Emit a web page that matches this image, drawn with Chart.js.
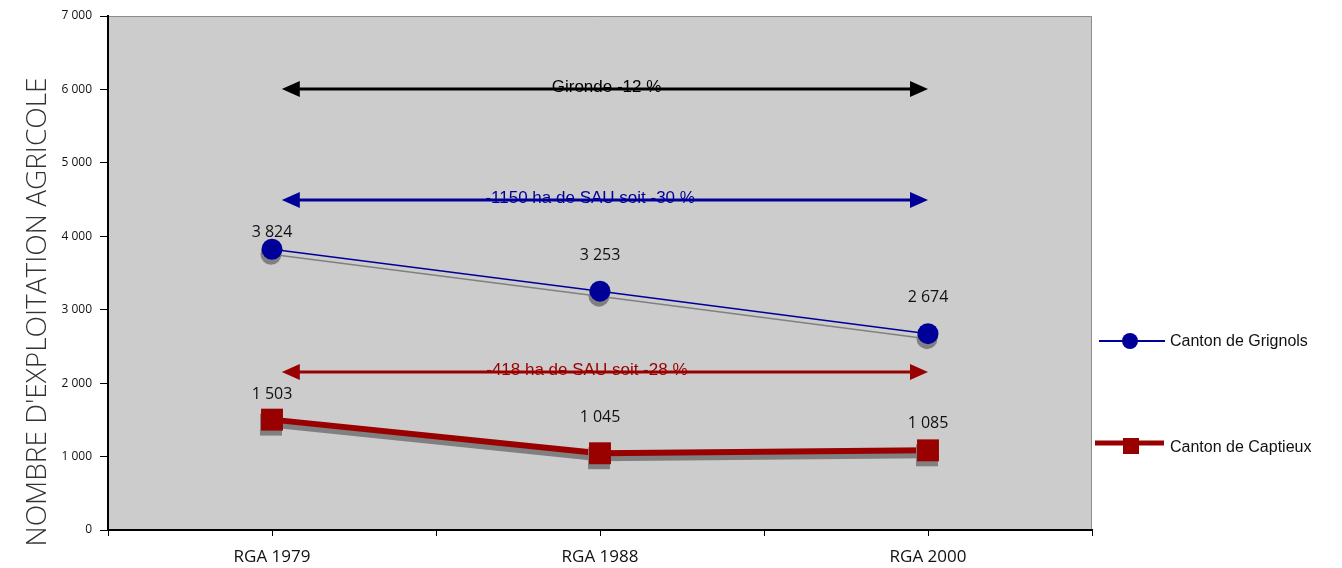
<!DOCTYPE html>
<html>
<head>
<meta charset="utf-8">
<script src="https://cdn.jsdelivr.net/npm/chart.js@4/dist/chart.umd.min.js"></script>
<style>
  body { margin: 0; background: #fff; }
  #wrap { width: 1342px; height: 568px; }
</style>
</head>
<body>
<div id="wrap"><canvas id="chart" width="1342" height="568"></canvas></div>
<script>
// ===== DATA =====
const categories = ["RGA 1979", "RGA 1988", "RGA 2000"];
const grignols = [3824, 3253, 2674];
const captieux = [1503, 1045, 1085];
const seriesNames = ["Canton de Grignols", "Canton de Captieux"];
const yTicks = [0, 1000, 2000, 3000, 4000, 5000, 6000, 7000];

// arrows: level on the y scale and text
const arrowLevels = [6000, 4500, 2150];
const arrowTexts = ["Gironde -12 %", "-1150 ha de SAU soit -30 %", "-418 ha de SAU soit -28 %"];

// ===== STYLE =====
const BLUE = "#000099";
const RED = "#990000";
const arrowColors = ["#000000", BLUE, RED];
const arrowTextAt = [1.02, 0.97, 0.96]; // text centre, in category units
const labelGap = [[17, 36, 36], [25, 36, 27]]; // px above the point

const fmt = v => String(v).replace(/\B(?=(\d{3})+(?!\d))/g, " ");

// ===== PLUGINS =====
const plotBg = {
  id: "plotBg",
  beforeDraw(chart) {
    const { ctx, chartArea: a } = chart;
    ctx.save();
    ctx.fillStyle = "#cccccc";
    ctx.fillRect(a.left, a.top, a.right - a.left, a.bottom - a.top);
    ctx.strokeStyle = "#8c8c8c";
    ctx.lineWidth = 1;
    ctx.beginPath();
    ctx.moveTo(a.left, a.top + 0.5);
    ctx.lineTo(a.right - 0.5, a.top + 0.5);
    ctx.lineTo(a.right - 0.5, a.bottom);
    ctx.stroke();
    ctx.restore();
  }
};

const shadow = {
  id: "shadow",
  beforeDatasetDraw(chart) {
    const ctx = chart.ctx;
    ctx.save();
    ctx.shadowColor = "#808080";
    ctx.shadowOffsetX = -1;
    ctx.shadowOffsetY = 5;
    ctx.shadowBlur = 0;
  },
  afterDatasetDraw(chart) {
    chart.ctx.restore();
  }
};

const extras = {
  id: "extras",
  afterDatasetsDraw(chart) {
    const { ctx, scales: { x, y } } = chart;
    ctx.save();

    // arrows
    arrowLevels.forEach((lvl, i) => {
      const py = Math.round(y.getPixelForValue(lvl));
      const x1 = x.getPixelForValue(0.03);
      const x2 = x.getPixelForValue(2);
      const c = arrowColors[i];
      ctx.strokeStyle = c;
      ctx.fillStyle = c;
      ctx.lineWidth = 3;
      ctx.beginPath();
      ctx.moveTo(x1 + 10, py);
      ctx.lineTo(x2 - 10, py);
      ctx.stroke();
      ctx.beginPath();
      ctx.moveTo(x1, py);
      ctx.lineTo(x1 + 18, py - 8);
      ctx.lineTo(x1 + 18, py + 8);
      ctx.closePath();
      ctx.fill();
      ctx.beginPath();
      ctx.moveTo(x2, py);
      ctx.lineTo(x2 - 18, py - 8);
      ctx.lineTo(x2 - 18, py + 8);
      ctx.closePath();
      ctx.fill();
      ctx.font = "17px 'Liberation Sans', Arial, sans-serif";
      ctx.textAlign = "center";
      ctx.textBaseline = "alphabetic";
      ctx.fillText(arrowTexts[i], x.getPixelForValue(arrowTextAt[i]), py + 3);
    });

    // data labels
    ctx.fillStyle = "#111";
    ctx.font = "16px 'Open Sans', sans-serif";
    ctx.textAlign = "center";
    ctx.textBaseline = "middle";
    [grignols, captieux].forEach((arr, d) => {
      arr.forEach((v, i) => {
        const px = x.getPixelForValue(i);
        const py = y.getPixelForValue(v);
        ctx.fillText(fmt(v), px, py - labelGap[d][i]);
      });
    });
    ctx.restore();
  },
  afterDraw(chart) {
    const ctx = chart.ctx;
    ctx.save();
    // y axis title
    ctx.translate(38, 312);
    ctx.rotate(-Math.PI / 2);
    ctx.fillStyle = "#333";
    ctx.font = "300 28px 'Open Sans', sans-serif";
    ctx.textAlign = "center";
    ctx.textBaseline = "middle";
    ctx.fillText("NOMBRE D'EXPLOITATION AGRICOLE", 0, 0);
    ctx.restore();

    // legend
    ctx.save();
    ctx.fillStyle = "#fff";
    ctx.fillRect(1093, 290, 249, 210);
    ctx.strokeStyle = BLUE;
    ctx.lineWidth = 2;
    ctx.beginPath();
    ctx.moveTo(1099, 341);
    ctx.lineTo(1165, 341);
    ctx.stroke();
    ctx.fillStyle = BLUE;
    ctx.beginPath();
    ctx.arc(1130, 341, 8, 0, Math.PI * 2);
    ctx.fill();
    ctx.strokeStyle = RED;
    ctx.lineWidth = 5;
    ctx.beginPath();
    ctx.moveTo(1095, 443);
    ctx.lineTo(1164, 443);
    ctx.stroke();
    ctx.fillStyle = RED;
    ctx.fillRect(1123, 438, 16, 16);
    ctx.fillStyle = "#111";
    ctx.font = "16px 'Liberation Sans', Arial, sans-serif";
    ctx.textBaseline = "middle";
    ctx.textAlign = "left";
    ctx.fillText(seriesNames[0], 1170, 342);
    ctx.fillText(seriesNames[1], 1170, 448);
    ctx.restore();
  }
};

// ===== CHART =====
new Chart(document.getElementById("chart"), {
  type: "line",
  data: {
    datasets: [
      {
        label: seriesNames[0],
        data: grignols.map((v, i) => ({ x: i, y: v })),
        borderColor: BLUE,
        backgroundColor: BLUE,
        borderWidth: 1.5,
        pointRadius: 10.5,
        pointBorderWidth: 0,
        pointStyle: "circle",
        tension: 0
      },
      {
        label: seriesNames[1],
        data: captieux.map((v, i) => ({ x: i, y: v })),
        borderColor: RED,
        backgroundColor: RED,
        borderWidth: 6,
        pointRadius: 15.5,
        pointBorderWidth: 0,
        pointStyle: "rect",
        tension: 0
      }
    ]
  },
  options: {
    responsive: false,
    animation: false,
    clip: false,
    layout: { padding: { top: 16, right: 250, left: 0, bottom: 0 } },
    plugins: { legend: { display: false }, tooltip: { enabled: false } },
    scales: {
      x: {
        type: "linear",
        min: -0.5,
        max: 2.5,
        afterBuildTicks: s => { s.ticks = [-0.5, 0, 0.5, 1, 1.5, 2, 2.5].map(v => ({ value: v })); },
        afterFit: s => { s.height = 38; },
        grid: { drawOnChartArea: false, tickLength: 6, color: "#000", tickWidth: 1 },
        border: { color: "#000", width: 2 },
        ticks: {
          autoSkip: false,
          maxRotation: 0,
          padding: 11,
          color: "#111",
          font: { family: "'Liberation Sans Narrow', 'Open Sans', sans-serif", size: 17 },
          callback: v => Number.isInteger(v) ? categories[v] : ""
        }
      },
      y: {
        min: 0,
        max: 7000,
        afterBuildTicks: s => { s.ticks = yTicks.map(v => ({ value: v })); },
        afterFit: s => { s.width = 108; },
        grid: { drawOnChartArea: false, tickLength: 8, color: "#000" },
        border: { color: "#000", width: 2 },
        ticks: {
          padding: 8,
          color: "#111",
          font: { family: "'Open Sans', sans-serif", size: 12 },
          callback: v => fmt(v)
        }
      }
    }
  },
  plugins: [plotBg, shadow, extras]
});
</script>
</body>
</html>
